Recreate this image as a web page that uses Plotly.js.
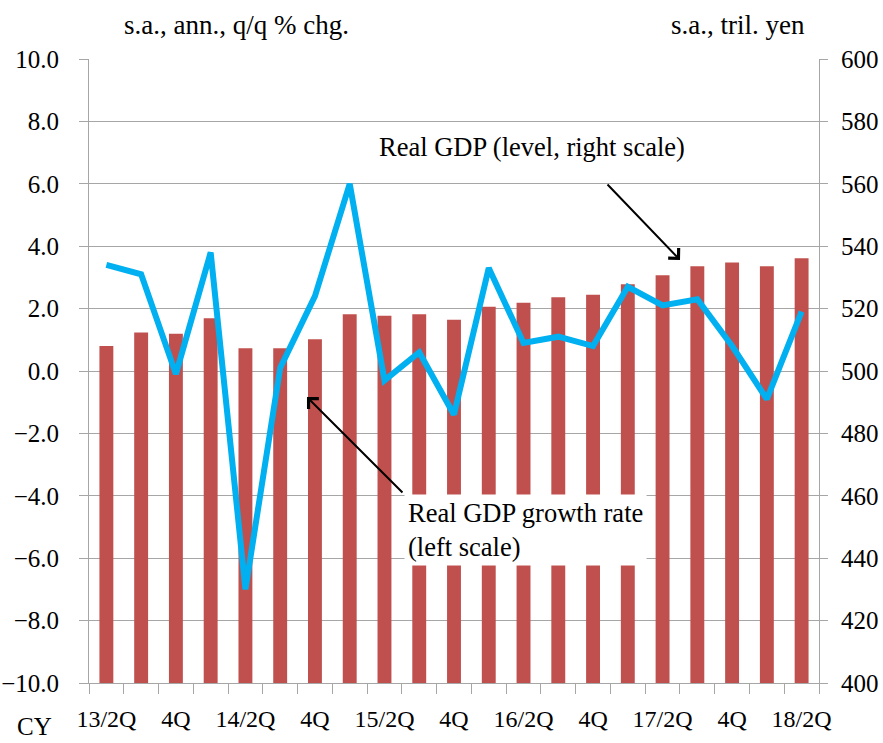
<!DOCTYPE html>
<html>
<head>
<meta charset="utf-8">
<script src="https://cdn.plot.ly/plotly-3.0.1.min.js"></script>
<style>
  html, body { margin: 0; padding: 0; background: #ffffff; }
  #chart { width: 883px; height: 743px; }
</style>
</head>
<body>
<div id="chart"></div>
<script>
// Quarters (CY), 2013 Q2 to 2018 Q2
const quarters = ["13/2Q","13/3Q","13/4Q","14/1Q","14/2Q","14/3Q","14/4Q","15/1Q","15/2Q","15/3Q","15/4Q",
                  "16/1Q","16/2Q","16/3Q","16/4Q","17/1Q","17/2Q","17/3Q","17/4Q","18/1Q","18/2Q"];
// Tick labels shown under the axis (every other quarter)
const quarterLabels = ["13/2Q","","4Q","","14/2Q","","4Q","","15/2Q","","4Q","",
                       "16/2Q","","4Q","","17/2Q","","4Q","","18/2Q"];
// Real GDP level, s.a., tril. yen (right scale)
const gdpLevel = [508.0, 512.3, 511.9, 516.9, 507.3, 507.3, 510.2, 518.2, 517.7, 518.2, 516.4,
                  520.6, 521.9, 523.6, 524.4, 527.8, 530.7, 533.6, 534.8, 533.6, 536.1];
// Real GDP growth rate, s.a., ann., q/q % chg. (left scale)
const gdpGrowth = [3.4, 3.1, -0.1, 3.8, -7.0, 0.1, 2.4, 6.0, -0.3, 0.6, -1.4,
                   3.3, 0.9, 1.1, 0.8, 2.7, 2.1, 2.3, 0.8, -0.9, 1.9];

const FONT = "Liberation Serif";
const FONT_CSS = '"Liberation Serif", "Times New Roman", serif';
const AXISGRAY = "#a6a6a6";

const traces = [
  {
    type: "bar",
    x: quarters,
    y: gdpLevel,
    yaxis: "y",
    marker: { color: "#C0504D" }
  },
  {
    type: "scatter",
    mode: "lines",
    x: quarters,
    y: gdpGrowth,
    yaxis: "y2",
    line: { color: "#00B0F0", width: 6 }
  }
];

const layout = {
  width: 883,
  height: 743,
  margin: { l: 89, r: 64, t: 59, b: 60 },
  showlegend: false,
  bargap: 0.6,
  font: { family: FONT, size: 25, color: "#000000" },
  xaxis: {
    type: "category",
    tickvals: quarters,
    ticktext: quarterLabels,
    tickson: "boundaries",
    ticks: "outside",
    ticklen: 10,
    tickcolor: AXISGRAY,
    showline: true,
    linecolor: AXISGRAY,
    showgrid: false,
    tickangle: 0,
    tickfont: { family: FONT, size: 24 },
    ticklabelstandoff: 14
  },
  // Right scale: real GDP level
  yaxis: {
    side: "right",
    range: [400, 600],
    dtick: 20,
    ticks: "outside",
    ticklen: 8,
    tickcolor: AXISGRAY,
    showline: true,
    linecolor: AXISGRAY,
    showgrid: true,
    gridcolor: AXISGRAY,
    zeroline: false,
    tickfont: { family: FONT, size: 25 },
    ticklabelstandoff: 8
  },
  // Left scale: growth rate
  yaxis2: {
    side: "left",
    overlaying: "y",
    range: [-10, 10],
    dtick: 2,
    tickformat: ".1f",
    ticks: "outside",
    ticklen: 9,
    tickcolor: AXISGRAY,
    showline: true,
    linecolor: AXISGRAY,
    showgrid: false,
    zeroline: false,
    tickfont: { family: FONT, size: 25 },
    ticklabelstandoff: 15
  },
  annotations: [
    {
      text: "s.a., ann., q/q % chg.",
      xref: "paper", yref: "paper",
      x: 0.2014, y: 1.054,
      xanchor: "center", yanchor: "middle",
      showarrow: false,
      font: { family: FONT, size: 27 }
    },
    {
      text: "s.a., tril. yen",
      xref: "paper", yref: "paper",
      x: 0.889, y: 1.054,
      xanchor: "center", yanchor: "middle",
      showarrow: false,
      font: { family: FONT, size: 27 }
    },
    {
      text: "CY",
      xref: "paper", yref: "paper",
      x: -0.074, y: -0.0945,
      xanchor: "center", yanchor: "bottom",
      showarrow: false,
      font: { family: FONT, size: 25 }
    },
    {
      text: "Real GDP (level, right scale)",
      xref: "paper", yref: "paper",
      x: 0.6075, y: 0.859,
      xanchor: "center", yanchor: "middle",
      showarrow: false,
      font: { family: FONT, size: 26.5 }
    },
    {
      text: " ",
      xref: "paper", yref: "paper",
      x: 0.8096, y: 0.6779,
      ax: -74, ay: -77,
      showarrow: true,
      arrowhead: 4,
      arrowsize: 1.4,
      arrowwidth: 2,
      arrowcolor: "#000000",
      font: { family: FONT, size: 1 }
    },
    {
      text: "Real GDP growth rate<br>(left scale)",
      xref: "paper", yref: "paper",
      x: 0.4315, y: 0.3029,
      xanchor: "left", yanchor: "top",
      align: "left",
      showarrow: false,
      bgcolor: "#ffffff",
      borderpad: 3,
      font: { family: FONT, size: 26.5 }
    },
    {
      text: " ",
      xref: "paper", yref: "paper",
      x: 0.2986, y: 0.4583,
      ax: 97, ay: 97,
      showarrow: true,
      arrowhead: 4,
      arrowsize: 1.4,
      arrowwidth: 2,
      arrowcolor: "#000000",
      font: { family: FONT, size: 1 }
    }
  ]
};

function applySerif() {
  document.querySelectorAll("#chart .xtick text, #chart .ytick text, #chart .y2tick text").forEach(function (t) {
    t.style.fontFamily = FONT_CSS;
    t.setAttribute("font-family", FONT_CSS);
  });
}

Plotly.newPlot("chart", traces, layout, { staticPlot: true }).then(function () {
  applySerif();
  requestAnimationFrame(applySerif);
  setTimeout(applySerif, 50);
});
</script>
</body>
</html>
